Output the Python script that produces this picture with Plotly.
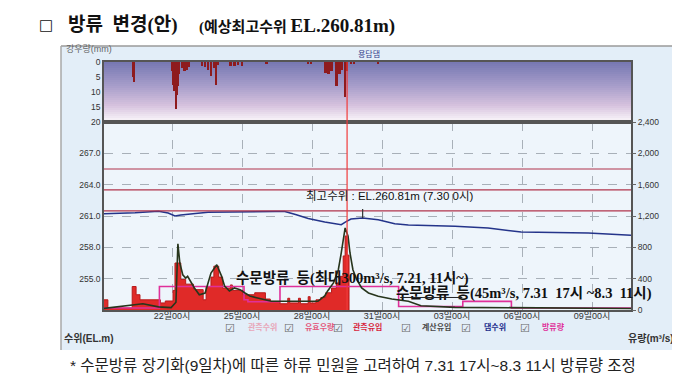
import plotly.graph_objects as go

# ---------------- data ----------------
rain_times = ["2020-07-20 08:00", "2020-07-20 09:00",
              "2020-07-22 00:00", "2020-07-22 01:00", "2020-07-22 02:00", "2020-07-22 03:00",
              "2020-07-22 04:00", "2020-07-22 05:00", "2020-07-22 06:00", "2020-07-22 07:00",
              "2020-07-22 11:00", "2020-07-22 13:00", "2020-07-22 15:00", "2020-07-22 17:00",
              "2020-07-23 07:00", "2020-07-23 10:00", "2020-07-23 13:00", "2020-07-23 16:00",
              "2020-07-23 19:00", "2020-07-23 21:00", "2020-07-23 23:00",
              "2020-07-24 12:00", "2020-07-24 16:00", "2020-07-24 20:00", "2020-07-25 00:00",
              "2020-07-26 01:00", "2020-07-27 20:00", "2020-07-27 23:00",
              "2020-07-28 14:00", "2020-07-28 17:00", "2020-07-28 20:00", "2020-07-29 01:00",
              "2020-07-29 04:00", "2020-07-29 07:00", "2020-07-29 10:00", "2020-07-29 12:00",
              "2020-07-29 16:00", "2020-07-29 19:00", "2020-07-30 20:00"]
rain_mm = [5.0, 6.5,
           3.0, 7.5, 9.5, 9.0, 15.5, 11.0, 8.0, 4.0,
           2.0, 3.0, 2.5, 1.5,
           1.2, 1.5, 2.5, 4.7, 2.0, 7.6, 1.0,
           1.2, 1.3, 1.0, 1.2,
           0.6, 0.8, 0.6,
           3.5, 4.0, 3.0, 8.0, 4.0, 2.5, 11.5, 3.0,
           0.8, 0.8, 0.5]

level_times = ["2020-07-19 02:00", "2020-07-20 10:00", "2020-07-21 10:00", "2020-07-21 20:00",
               "2020-07-22 03:00", "2020-07-22 09:00", "2020-07-23 00:00", "2020-07-23 13:00",
               "2020-07-26 10:00", "2020-07-26 20:00", "2020-07-27 07:00", "2020-07-27 20:00",
               "2020-07-28 13:00", "2020-07-29 06:00", "2020-07-29 11:00", "2020-07-29 16:00",
               "2020-07-30 04:00", "2020-07-30 20:00", "2020-07-31 13:00", "2020-08-01 03:00",
               "2020-08-03 03:00", "2020-08-04 13:00", "2020-08-05 23:00", "2020-08-08 20:00",
               "2020-08-10 16:00"]
level_m = [261.22, 261.30, 261.46, 261.29,
           261.00, 261.10, 261.24, 261.36,
           261.43, 261.43, 261.14, 260.76,
           260.43, 260.17, 260.47, 260.71,
           260.81, 260.65, 260.26, 260.14,
           260.01, 259.85, 259.47, 259.37,
           259.15]

outflow_times = ["2020-07-19 02:00", "2020-07-21 11:00", "2020-07-25 02:00", "2020-07-25 06:00",
                 "2020-07-26 15:00", "2020-07-31 17:00", "2020-08-03 11:00", "2020-08-05 13:00",
                 "2020-08-10 16:00"]
outflow_cms = [25, 300, 130, 105, 300, 45, 110, 25, 25]

calc_inflow_times = ["2020-07-19 02:00", "2020-07-20 09:00", "2020-07-20 18:00", "2020-07-21 10:00",
                     "2020-07-21 23:00", "2020-07-22 04:00", "2020-07-22 06:00", "2020-07-22 08:00",
                     "2020-07-22 11:00", "2020-07-22 14:00", "2020-07-22 16:00", "2020-07-22 23:00",
                     "2020-07-23 04:00", "2020-07-23 10:00", "2020-07-23 16:00", "2020-07-23 22:00",
                     "2020-07-24 03:00", "2020-07-24 06:00", "2020-07-24 11:00", "2020-07-24 16:00",
                     "2020-07-24 22:00", "2020-07-25 03:00", "2020-07-25 08:00", "2020-07-25 16:00",
                     "2020-07-26 06:00", "2020-07-27 10:00", "2020-07-28 06:00", "2020-07-28 13:00",
                     "2020-07-28 16:00", "2020-07-28 22:00", "2020-07-29 03:00", "2020-07-29 06:00",
                     "2020-07-29 10:00", "2020-07-29 13:00", "2020-07-29 15:00", "2020-07-29 18:00",
                     "2020-07-29 22:00", "2020-07-30 03:00", "2020-07-30 10:00", "2020-07-30 20:00",
                     "2020-07-31 10:00", "2020-08-01 03:00", "2020-08-01 16:00", "2020-08-03 03:00",
                     "2020-08-06 06:00", "2020-08-10 16:00"]
calc_inflow_cms = [20, 60, 80, 40,
                   30, 100, 846, 600,
                   450, 408, 430, 281,
                   195, 217, 472, 578,
                   430, 306, 243, 281,
                   259, 217, 179, 153,
                   111, 111, 111, 179,
                   243, 345, 514, 728,
                   1047, 941, 728, 514,
                   387, 281, 217, 175,
                   140, 111, 55, 34,
                   25, 20]

obs_inflow_times = ["2020-07-19 02:00", "2020-07-19 06:00", "2020-07-20 07:00", "2020-07-20 11:00",
                    "2020-07-20 15:00", "2020-07-21 12:00", "2020-07-21 17:00", "2020-07-22 01:00",
                    "2020-07-22 03:00", "2020-07-22 09:00", "2020-07-22 14:00", "2020-07-22 22:00",
                    "2020-07-23 08:00", "2020-07-23 11:00", "2020-07-23 16:00", "2020-07-23 19:00",
                    "2020-07-24 00:00", "2020-07-24 04:00", "2020-07-24 12:00", "2020-07-24 14:00",
                    "2020-07-25 01:00", "2020-07-25 13:00", "2020-07-26 00:00", "2020-07-26 05:00",
                    "2020-07-26 15:00", "2020-07-26 23:00", "2020-07-27 01:00", "2020-07-27 10:00",
                    "2020-07-27 12:00", "2020-07-27 20:00", "2020-07-27 22:00", "2020-07-28 04:00",
                    "2020-07-28 09:00", "2020-07-28 14:00", "2020-07-28 20:00", "2020-07-29 01:00",
                    "2020-07-29 05:00", "2020-07-29 08:00", "2020-07-29 10:00", "2020-07-29 12:00",
                    "2020-07-29 14:00"]
obs_inflow_cms = [130, 25, 300, 195,
                  130, 90, 115, 250,
                  600, 390, 330, 260,
                  130, 300, 420, 560,
                  420, 280, 320, 250,
                  195, 220, 140, 110,
                  80, 150, 90, 150,
                  80, 170, 90, 130,
                  160, 220, 280, 345,
                  430, 690, 945, 700,
                  0]

dam_levels = [265.5, 263.5, 261.5]
now_time = "2020-07-29 12:00"
peak_time = "2020-07-30 04:00"
peak_level = 260.81

x_tickvals = ["2020-07-22", "2020-07-25", "2020-07-28", "2020-07-31",
              "2020-08-03", "2020-08-06", "2020-08-09"]
x_ticktext = ["22일00시", "25일00시", "28일00시", "31일00시", "03일00시", "06일00시", "09일00시"]
level_ticks = [255, 258, 261, 264, 267]
flow_ticks = [0, 400, 800, 1200, 1600, 2000, 2400]
rain_ticks = [0, 5, 10, 15, 20]

legend_labels = ["관측수위", "유효우량", "관측유입", "계산유입", "댐수위", "방류량"]
legend_colors = ["#e8a6b8", "#e4587c", "#d81e3c", "#4a4a4a", "#1c2c8c", "#e0309a"]

# ---------------- layout geometry ----------------
W, H = 680, 380
L, R, T, B = 96, 57, 54, 78
PW, PH = W - L - R, H - T - B
split = (302 - 114) / PH


def px(x):
    return (x - L) / PW


def py(y):
    return (H - B - y) / PH


KFONT = "Liberation Sans, Noto Sans CJK KR, sans-serif"
SFONT = "Liberation Serif, Noto Sans CJK KR, serif"
NB = "\u00a0"

fig = go.Figure()

fig.add_trace(go.Scatter(x=obs_inflow_times, y=obs_inflow_cms, yaxis="y3", mode="lines",
                         line=dict(shape="hv", color="#b81a1a", width=1),
                         fill="tozeroy", fillcolor="#e02a28", name="관측유입"))
fig.add_trace(go.Scatter(x=outflow_times, y=outflow_cms, yaxis="y3", mode="lines",
                         line=dict(shape="hv", color="#e0309a", width=1.6), name="방류량"))
fig.add_trace(go.Scatter(x=calc_inflow_times, y=calc_inflow_cms, yaxis="y3", mode="lines",
                         line=dict(color="#27351c", width=1.6), name="계산유입"))
fig.add_trace(go.Scatter(x=level_times, y=level_m, yaxis="y", mode="lines",
                         line=dict(color="#24348a", width=1.5), name="댐수위"))
fig.add_trace(go.Bar(x=rain_times, y=rain_mm, xaxis="x2", yaxis="y2",
                     marker=dict(color="#8e1b1e", line=dict(width=0)),
                     width=2.6 * 3600 * 1000, name="강우량"))

shapes = []
# frame background
shapes.append(dict(type="rect", xref="paper", yref="paper", x0=px(53), x1=px(668),
                   y0=py(342), y1=py(38), fillcolor="#e3eef8", line=dict(width=0), layer="below"))
shapes.append(dict(type="line", xref="paper", yref="paper", x0=px(53), x1=px(668),
                   y0=py(38), y1=py(38), line=dict(color="#9a9a9a", width=1.5), layer="below"))
shapes.append(dict(type="line", xref="paper", yref="paper", x0=px(53), x1=px(53),
                   y0=py(342), y1=py(38), line=dict(color="#a8a8a8", width=1.5), layer="below"))
# main plot background
shapes.append(dict(type="rect", xref="x domain", yref="y domain", x0=0, x1=1, y0=0, y1=1,
                   fillcolor="#eef5fb", line=dict(width=0), layer="below"))
# rain panel gradient
stops = [(0.0, (118, 120, 178)), (0.4, (168, 158, 202)), (0.72, (214, 194, 222)), (1.0, (252, 249, 252))]
n = 30
for i in range(n):
    f = (i + 0.5) / n
    for k in range(len(stops) - 1):
        if stops[k][0] <= f <= stops[k + 1][0]:
            a, ca = stops[k]
            b, cb = stops[k + 1]
            t = (f - a) / (b - a)
            c = tuple(int(ca[j] + (cb[j] - ca[j]) * t) for j in range(3))
            break
    shapes.append(dict(type="rect", xref="x2 domain", yref="y2 domain", x0=0, x1=1,
                       y0=1 - (i + 1) / n, y1=1 - i / n + 0.002,
                       fillcolor="rgb(%d,%d,%d)" % c, line=dict(width=0), layer="below"))
# dam reference levels
for lv in dam_levels:
    shapes.append(dict(type="line", xref="x domain", yref="y", x0=0, x1=1, y0=lv, y1=lv,
                       line=dict(color="#b0344c", width=1.2)))
# present-time line
shapes.append(dict(type="line", xref="x", yref="paper", x0=now_time, x1=now_time, y0=0, y1=1,
                   line=dict(color="#f03a3a", width=1.2)))
# peak marker
shapes.append(dict(type="line", xref="x", yref="y", x0=peak_time, x1=peak_time,
                   y0=peak_level, y1=261.67, line=dict(color="#333333", width=1.2)))

ann = []
ann.append(dict(xref="paper", yref="paper", x=px(29), y=py(17), xanchor="left", yanchor="middle",
                text="□", showarrow=False,
                font=dict(family="DejaVu Sans", size=15, color="#111")))
ann.append(dict(xref="paper", yref="paper", x=px(58), y=py(17), xanchor="left", yanchor="middle",
                text="<b>방류" + NB * 2 + "변경(안)</b>", showarrow=False,
                font=dict(family=SFONT, size=19, color="#111")))
ann.append(dict(xref="paper", yref="paper", x=px(189), y=py(18), xanchor="left", yanchor="middle",
                text="<b>(예상최고수위" + NB + "<span style='font-size:19px'>EL.260.81m)</span></b>",
                showarrow=False, font=dict(family=SFONT, size=15, color="#111")))
ann.append(dict(xref="paper", yref="paper", x=px(56), y=py(41), xanchor="left", yanchor="middle",
                text="강우량(mm)", showarrow=False, font=dict(family=KFONT, size=9, color="#666")))
ann.append(dict(xref="paper", yref="paper", x=px(361), y=py(46), xanchor="center", yanchor="middle",
                text="용담댐", showarrow=False, font=dict(family=KFONT, size=8, color="#34408a")))
ann.append(dict(xref="paper", yref="paper", x=px(296), y=py(188), xanchor="left", yanchor="middle",
                text="최고수위 : EL.260.81m (7.30 0시)", showarrow=False,
                font=dict(family=KFONT, size=11.5, color="#111")))
ann.append(dict(xref="paper", yref="paper", x=px(226), y=py(270), xanchor="left", yanchor="middle",
                text="<b>수문방류" + NB * 2 + "등(최대300m³/s, 7.21, 11시~)</b>", showarrow=False,
                font=dict(family=SFONT, size=14.5, color="#111")))
ann.append(dict(xref="paper", yref="paper", x=px(386), y=py(285), xanchor="left", yanchor="middle",
                text="<b>수문방류" + NB * 2 + "등(45m³/s, 7.31" + NB * 2 + "17시 ~8.3" + NB * 2 + "11시)</b>",
                showarrow=False, font=dict(family=SFONT, size=14.5, color="#111")))
ann.append(dict(xref="x", yref="y3", x="2020-08-03 11:00", y=160, ax="2020-07-31 17:00", ay=160,
                axref="x", ayref="y3", text="", showarrow=True, arrowhead=2, arrowsize=0.8,
                arrowwidth=1, arrowcolor="#222"))
ann.append(dict(xref="paper", yref="paper", x=px(54), y=py(330), xanchor="left", yanchor="middle",
                text="<b>수위(EL.m)</b>", showarrow=False, font=dict(family=KFONT, size=10, color="#333")))
ann.append(dict(xref="paper", yref="paper", x=px(668), y=py(330), xanchor="right", yanchor="middle",
                text="<b>유량(m³/s)</b>", showarrow=False, font=dict(family=KFONT, size=10, color="#333")))
cb_x = [222, 281, 330, 398, 458, 517]
lb_x = [238, 295, 343, 412, 474, 532]
for i, lab in enumerate(legend_labels):
    ann.append(dict(xref="paper", yref="paper", x=px(cb_x[i]), y=py(320), xanchor="center",
                    yanchor="middle", text="☑", showarrow=False,
                    font=dict(family="DejaVu Sans", size=11, color="#666")))
    ann.append(dict(xref="paper", yref="paper", x=px(lb_x[i]), y=py(319), xanchor="left",
                    yanchor="middle", text="<b>%s</b>" % lab, showarrow=False,
                    font=dict(family=KFONT, size=8, color=legend_colors[i])))
ann.append(dict(xref="paper", yref="paper", x=px(60), y=py(357), xanchor="left", yanchor="middle",
                text="* 수문방류 장기화(9일차)에 따른 하류 민원을 고려하여 7.31 17시~8.3 11시 방류량 조정",
                showarrow=False, font=dict(family=KFONT, size=15.5, color="#222")))

tickfont = dict(family="Liberation Sans, Noto Sans CJK KR", size=8.5, color="#333")
fig.update_layout(
    width=W, height=H, margin=dict(l=L, r=R, t=T, b=B),
    paper_bgcolor="white", plot_bgcolor="rgba(0,0,0,0)",
    showlegend=False, bargap=0,
    shapes=shapes, annotations=ann,
    xaxis=dict(domain=[0, 1], anchor="y", type="date",
               range=["2020-07-19 02:00", "2020-08-10 16:00"],
               tickvals=x_tickvals, ticktext=x_ticktext, tickfont=dict(family=KFONT, size=9, color="#333"),
               ticklabelstandoff=-4,
               showgrid=True, gridcolor="#a8b0b8", griddash="dash", gridwidth=1,
               showline=True, linecolor="#555", linewidth=1.5, mirror=True, ticks="",
               zeroline=False),
    yaxis=dict(domain=[0, split], anchor="x", range=[252, 270], tickvals=level_ticks,
               tickformat=".1f", tickfont=tickfont, showgrid=True, gridcolor="#a8b0b8",
               griddash="dash", showline=True, linecolor="#555", linewidth=1.5, mirror=True,
               zeroline=False, ticks=""),
    yaxis3=dict(overlaying="y", anchor="x", side="right", range=[0, 2400], tickvals=flow_ticks,
                tickformat=",", tickfont=tickfont, showgrid=False, zeroline=False,
                ticks="outside", ticklen=4, tickcolor="#666", showline=False),
    xaxis2=dict(domain=[0, 1], anchor="y2", matches="x", type="date", showticklabels=False,
                showgrid=False, showline=True, linecolor="#555", linewidth=1.5, mirror=True,
                ticks="", zeroline=False),
    yaxis2=dict(domain=[split, 1], anchor="x2", range=[20, 0], tickvals=rain_ticks,
                tickfont=tickfont, showgrid=False, showline=True, linecolor="#555",
                linewidth=1.5, mirror=True, zeroline=False, ticks=""),
)

fig.write_html("out.html")
